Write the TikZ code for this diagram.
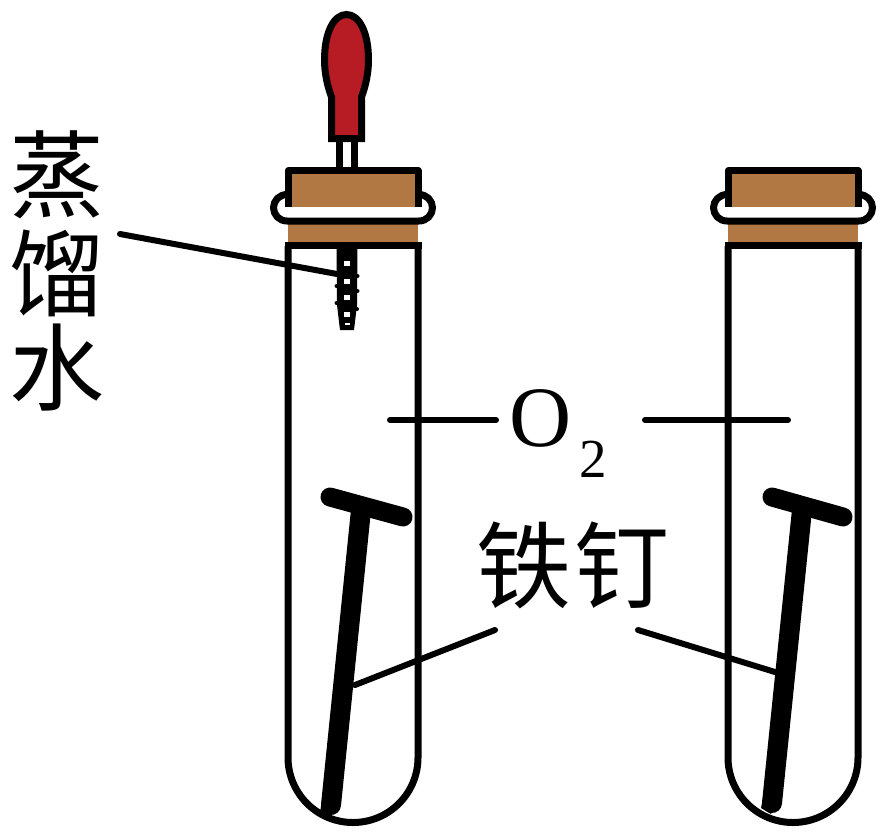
\documentclass[tikz,border=0pt]{standalone}
\usepackage{fontspec}
\setmainfont{Liberation Serif}
\newfontfamily\cjk{Noto Sans CJK SC}
\definecolor{corkc}{RGB}{178,120,68}
\definecolor{bulbc}{RGB}{183,28,36}
\tikzset{
  outline/.style={draw=black,line width=7pt},
  leader/.style={draw=black,line width=6pt,line cap=round},
  nailhead/.style={draw=black,line width=19pt,line cap=round},
  nailshaft/.style={draw=black,line width=20pt,line cap=round},
  label/.style={inner sep=0pt,outer sep=0pt,text=black,font=\cjk\fontsize{95}{95}\selectfont},
  tube/.pic={
    \draw[outline,fill=white] (0,246) -- (0,757.5) .. controls (0,793.4) and (29.1,822.5) .. (65,822.5) .. controls (100.9,822.5) and (130,793.4) .. (130,757.5) -- (130,246);
    \fill[corkc] (0,221) rectangle (130,246);
    \draw[outline,line join=round,fill=white] (0,194.5) -- (-1,194.5) .. controls (-8.5,194.5) and (-14.5,200.5) .. (-14.5,207.75) .. controls (-14.5,215) and (-8.5,221) .. (-1,221) -- (131,221) .. controls (138.5,221) and (144.5,215) .. (144.5,207.75) .. controls (144.5,200.5) and (138.5,194.5) .. (131,194.5) -- cycle;
    \draw[outline,line join=round,fill=corkc] (0,207) -- (0,170.5) -- (130,170.5) -- (130,207);
    \draw[outline] (-3.5,245.5) -- (133.5,245.5);
  }
}
\begin{document}
\begin{tikzpicture}[x=1pt,y=-1pt]
\useasboundingbox (0,0) rectangle (886,836);
% dropper stem
\draw[line width=7pt] (339.5,142) -- (339.5,170) (354,142) -- (354,170);
% bulb
\draw[outline,fill=bulbc,line join=miter] (331.5,138.5) -- (331.5,97)
  .. controls (327,85) and (324.5,72) .. (324.5,60)
  .. controls (324.5,32) and (334,14.5) .. (346.5,14.5)
  .. controls (359,14.5) and (368.5,32) .. (368.5,60)
  .. controls (368.5,72) and (366,85) .. (361.5,97)
  -- (361.5,138.5) -- cycle;
% tubes
\pic at (288,0) {tube};
\pic at (728,0) {tube};
% dropper tip
\fill[black] (336.5,246) -- (357.5,246) -- (357,305) -- (354,330) -- (340,330) -- (337,305) -- cycle;
\foreach \yy/\xx in {286/336.5,303/336.5,276/357.5,291/357.5,309/357}{\fill[black] (\xx,\yy) circle[radius=2pt];}
\foreach \yy in {263,281,297,314}{\fill[white] (344,\yy-2.5) rectangle (350,\yy+2.5);}
\fill[white] (344.5,323) rectangle (349.5,324.5);
% nails
\coordinate (lh1) at (330,497); \coordinate (lh2) at (403,517);
\coordinate (rh1) at (772,497); \coordinate (rh2) at (843,517);
\coordinate (ls1) at (361,510); \coordinate (ls2) at (331,805);
\coordinate (rs1) at (802,510); \coordinate (rs2) at (772,803);
\draw[nailshaft] (ls1) -- (ls2);
\fill[black] (322,800) -- (340,800) -- (330,816) -- (320,812) -- cycle;
\draw[nailhead] (lh1) -- (lh2);
\draw[nailshaft] (rs1) -- (rs2);
\fill[black] (763,798) -- (781,798) -- (771,814) -- (761,808) -- cycle;
\draw[nailhead] (rh1) -- (rh2);
% labels
\node[label] (zheng) at (57,175) {蒸};
\node[label] (liu) at (57,273) {馏};
\node[label] (shui) at (57,368) {水};
\node[label] (tie) at (524,565) {铁};
\node[label] (ding) at (622,565) {钉};
\node[inner sep=0pt,text=black,font=\fontsize{86}{86}\selectfont] (oxy) at (541,418) {O};
\node[inner sep=0pt,text=black,font=\fontsize{55}{55}\selectfont] (two) at (593,459) {2};
% leaders
\coordinate (a1) at (120,234); \coordinate (a2) at (337,274);
\coordinate (b1) at (390,420); \coordinate (b2) at (496,420);
\coordinate (c1) at (645,420); \coordinate (c2) at (788,420);
\coordinate (d1) at (495,630); \coordinate (d2) at (355,685);
\coordinate (e1) at (638,630); \coordinate (e2) at (775,672);
\draw[leader] (a1) -- (a2);
\draw[leader] (b1) -- (b2);
\draw[leader] (c1) -- (c2);
\draw[leader] (d1) -- (d2);
\draw[leader] (e1) -- (e2);
\end{tikzpicture}
\end{document}
